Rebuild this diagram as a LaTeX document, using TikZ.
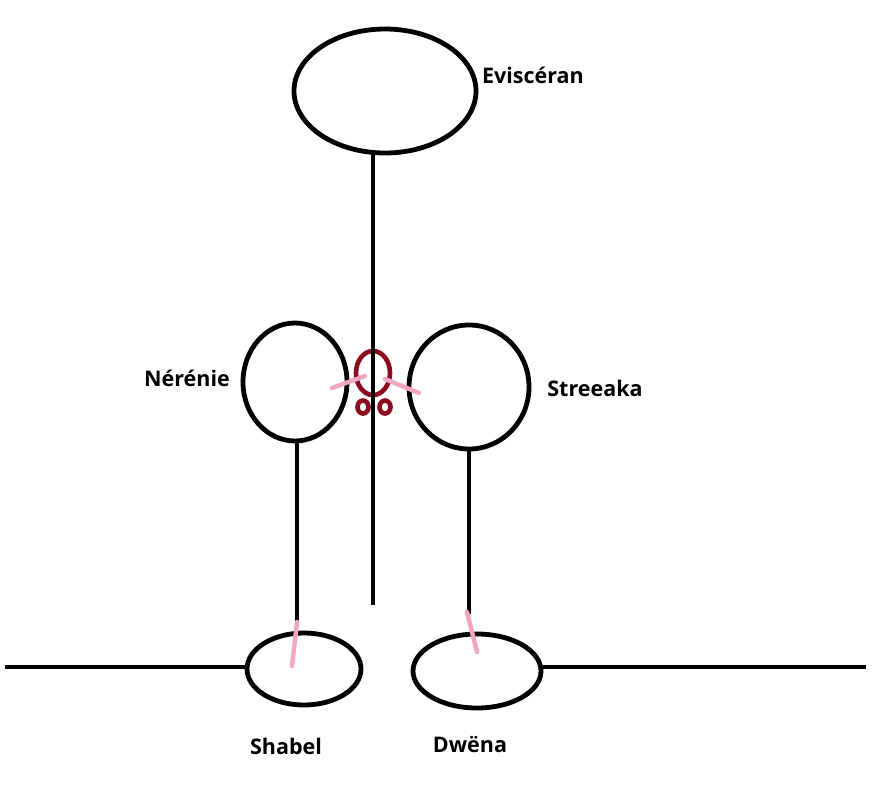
\documentclass[tikz,border=0pt]{standalone}
\usepackage{fontspec}
\setmainfont{Open Sans}
\usetikzlibrary{shapes.geometric}
\definecolor{knotred}{HTML}{8B0A1E}
\definecolor{tiepink}{HTML}{F4A6C0}
\begin{document}
\begin{tikzpicture}[x=1pt,y=-1pt,
  person/.style={draw=black,line width=4.8pt,ellipse,inner sep=0pt},
  link/.style={draw=black,line width=4.8pt},
  tie/.style={draw=tiepink,line width=4.4pt,line cap=round},
  knot/.style={draw=knotred,line width=4.6pt,ellipse,inner sep=0pt},
  lbl/.style={font=\bfseries\fontsize{21.5}{26}\selectfont,text=black,inner sep=0pt}]
\useasboundingbox (0,0) rectangle (887,785);
% persons
\node[person,minimum width=182pt,minimum height=124pt] (ev) at (385,91) {};
\node[person,minimum width=104pt,minimum height=118pt] (ne) at (295,382) {};
\node[person,minimum width=120pt,minimum height=124pt] (st) at (469,387) {};
\node[person,minimum width=114pt,minimum height=72pt] (sh) at (304,669) {};
\node[person,minimum width=128pt,minimum height=74pt] (dw) at (477,671) {};
% labels
\node[lbl] (evl) at (533,75) {Eviscéran};
\node[lbl] (nel) at (187,378) {Nérénie};
\node[lbl] (stl) at (595,388) {Streeaka};
\node[lbl] (shl) at (286,746) {Shabel};
\node[lbl] (dwl) at (470,745) {Dwëna};
% knot
\node[knot,minimum width=34pt,minimum height=44pt] (kn) at (373,373) {};
\node[knot,minimum width=11pt,minimum height=13pt] (kl) at (363,407) {};
\node[knot,minimum width=11pt,minimum height=13pt] (kr) at (385,407) {};
% coordinates
\coordinate (evend) at (373,605);
\coordinate (neend) at (297,622);
\coordinate (stend) at (469,614);
\coordinate (lfar) at (5,667);
\coordinate (rfar) at (866,667);
\coordinate (shtie) at (292,666);
\coordinate (dwtop) at (467,612);
\coordinate (dwtie) at (477,652);
% links
\draw[link] (ev.south -| evend) -- (evend);
\draw[link] (ne.south -| neend) -- (neend);
\draw[link] (st.south) -- (stend);
\draw[link] (lfar) -- (lfar -| sh.west);
\draw[link] (rfar -| dw.east) -- (rfar);
% ties
\draw[tie] (neend) -- (shtie);
\draw[tie] (dwtop) -- (dwtie);
\coordinate (tl1) at (332,388);
\coordinate (tl2) at (365,376);
\coordinate (tr1) at (385,379);
\coordinate (tr2) at (419,393);
\draw[tie] (tl1) -- (tl2);
\draw[tie] (tr1) -- (tr2);
\end{tikzpicture}
\end{document}
